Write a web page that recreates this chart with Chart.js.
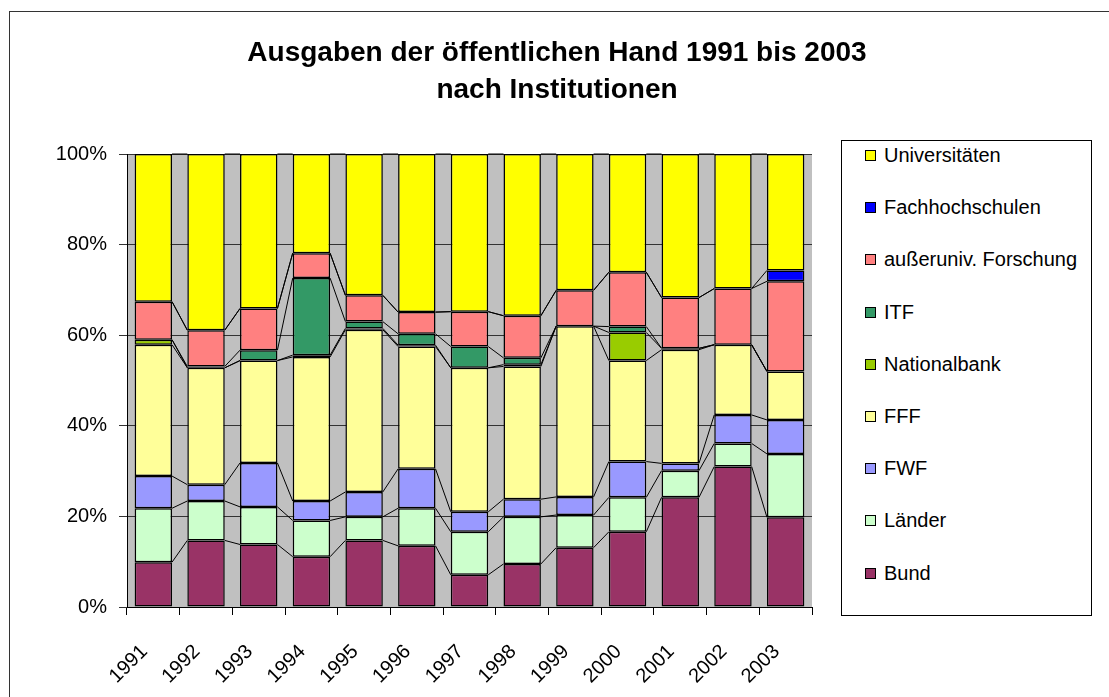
<!DOCTYPE html>
<html>
<head>
<meta charset="utf-8">
<script src="https://cdn.jsdelivr.net/npm/chart.js@4.4.0/dist/chart.umd.min.js"></script>
<style>
    body { margin: 0; background: #fff; }
    #wrap { position: relative; width: 1109px; height: 697px; overflow: hidden; }
    #frame { position: absolute; left: 9px; top: 11px; width: 1200px; height: 800px; border: 1.5px solid #333; }
    #chart { position: absolute; left: 0; top: 0; }
    #legend {
        position: absolute; left: 841px; top: 140px; width: 251px; height: 476px;
        box-sizing: border-box; border: 1px solid #000; background: #fff;
        font-family: 'Liberation Sans', Arial, sans-serif; font-size: 20px; color: #000;
    }
    .item { position: absolute; left: 23px; height: 24px; line-height: 24px; white-space: nowrap; }
    .item .box { position: absolute; left: 0; top: 7px; width: 11px; height: 11px; box-sizing: border-box; border: 1.5px solid #000; }
    .item .txt { position: absolute; left: 19px; top: 0; }
</style>
</head>
<body>
<div id="wrap">
    <div id="frame"></div>
    <canvas id="chart" width="1109" height="697"></canvas>
    <div id="legend"></div>
</div>
<script>
// --- Data (percent of total, bottom to top) ---
const years = ['1991', '1992', '1993', '1994', '1995', '1996', '1997', '1998', '1999', '2000', '2001', '2002', '2003'];

const bund         = [9.9, 14.7, 13.8, 11.1, 14.7, 13.5, 7.1, 9.5, 13.1, 16.6, 24.2, 31.0, 19.8];
const laender      = [11.9, 8.7, 8.3, 8.0, 5.2, 8.3, 9.5, 10.4, 7.2, 7.6, 5.9, 5.1, 14.0];
const fwf          = [7.1, 3.6, 9.7, 4.3, 5.5, 8.7, 4.4, 3.9, 4.0, 7.9, 1.6, 6.3, 7.5];
const fff          = [29.0, 25.8, 22.6, 31.8, 35.8, 27.0, 31.8, 29.3, 37.7, 22.3, 25.1, 15.5, 10.7];
const nationalbank = [1.1, 0, 0, 0.4, 0.3, 0.3, 0, 0.4, 0, 6.2, 0.3, 0, 0];
const itf          = [0, 0.3, 2.3, 17.0, 1.5, 2.5, 4.7, 1.5, 0, 1.3, 0, 0, 0];
const aussernuniv  = [8.4, 8.0, 9.2, 5.5, 5.8, 4.8, 7.7, 9.3, 7.9, 12.0, 11.2, 12.4, 19.9];
const fachhoch     = [0, 0, 0, 0, 0, 0, 0, 0, 0, 0, 0, 0, 2.4];
const unis         = [32.6, 38.9, 34.1, 21.9, 31.2, 34.9, 34.8, 35.7, 30.1, 26.1, 31.7, 29.7, 25.7];

const yStep = 20; // 0%, 20%, ... 100%

const seriesNames  = ['Bund', 'Länder', 'FWF', 'FFF', 'Nationalbank', 'ITF', 'außeruniv. Forschung', 'Fachhochschulen', 'Universitäten'];
const seriesData   = [bund, laender, fwf, fff, nationalbank, itf, aussernuniv, fachhoch, unis];
const seriesColors = ['#993366', '#CCFFCC', '#9999FF', '#FFFF99', '#99CC00', '#339966', '#FF8080', '#0000FF', '#FFFF00'];

const titleLines = ['Ausgaben der öffentlichen Hand 1991 bis 2003', 'nach Institutionen'];

const FONT = "'Liberation Sans', Arial, sans-serif";

// gray plot area (Excel style)
const plotBackground = {
    id: 'plotBackground',
    beforeDraw(chart) {
        const a = chart.chartArea;
        const ctx = chart.ctx;
        ctx.save();
        ctx.fillStyle = '#C0C0C0';
        ctx.fillRect(a.left, a.top, a.right - a.left, a.bottom - a.top);
        ctx.restore();
    }
};

// series lines between neighbouring bars
const seriesLines = {
    id: 'seriesLines',
    afterDatasetsDraw(chart) {
        const ctx = chart.ctx;
        ctx.save();
        ctx.strokeStyle = '#000';
        ctx.lineWidth = 1;
        chart.data.datasets.forEach((ds, i) => {
            const bars = chart.getDatasetMeta(i).data;
            for (let j = 0; j < bars.length - 1; j++) {
                const a = bars[j], b = bars[j + 1];
                ctx.beginPath();
                ctx.moveTo(a.x + a.width / 2, a.y);
                ctx.lineTo(b.x - b.width / 2, b.y);
                ctx.stroke();
            }
        });
        ctx.restore();
    }
};

// title centred over the whole chart object (Excel style)
const chartTitle = {
    id: 'chartTitle',
    afterDraw(chart) {
        const ctx = chart.ctx;
        ctx.save();
        ctx.font = 'bold 28px ' + FONT;
        ctx.fillStyle = '#000';
        ctx.textAlign = 'center';
        ctx.textBaseline = 'middle';
        titleLines.forEach((line, i) => {
            ctx.fillText(line, 557, 53 + i * 37);
        });
        ctx.restore();
    }
};

const datasets = seriesNames.map((name, i) => ({
    label: name,
    data: seriesData[i],
    backgroundColor: seriesColors[i],
    borderColor: '#000',
    borderWidth: 1.5,
    borderSkipped: false,
    barPercentage: 0.71,
    categoryPercentage: 1
}));

new Chart(document.getElementById('chart'), {
    type: 'bar',
    data: { labels: years, datasets: datasets },
    options: {
        responsive: false,
        animation: false,
        layout: { padding: { left: 20, right: 297, top: 154, bottom: 0 } },
        plugins: {
            legend: { display: false },
            tooltip: { enabled: false },
            title: { display: false }
        },
        scales: {
            x: {
                stacked: true,
                grid: { drawOnChartArea: false, drawTicks: true, tickLength: 8, color: '#000' },
                border: { color: '#000', width: 1 },
                ticks: { color: '#000', font: { family: FONT, size: 20 }, minRotation: 45, maxRotation: 45, padding: 25, labelOffset: -9 },
                afterFit(scale) { scale.height = 90; }
            },
            y: {
                stacked: true,
                min: 0,
                max: 100,
                grid: { color: '#333', tickLength: 8, drawTicks: true },
                border: { color: '#000', width: 1 },
                ticks: { color: '#000', font: { family: FONT, size: 20 }, padding: 12, stepSize: yStep, callback: v => v + '%' },
                afterFit(scale) { scale.width = 107; }
            }
        }
    },
    plugins: [plotBackground, seriesLines, chartTitle]
});

// --- Legend (top to bottom = reverse of stack order) ---
const legendEl = document.getElementById('legend');
for (let k = seriesNames.length - 1; k >= 0; k--) {
    const row = seriesNames.length - 1 - k;
    const item = document.createElement('div');
    item.className = 'item';
    item.style.top = (14 + row * 52.2 - 12) + 'px';
    item.innerHTML = `<span class="box" style="background:${seriesColors[k]}"></span><span class="txt">${seriesNames[k]}</span>`;
    legendEl.appendChild(item);
}
</script>
</body>
</html>
